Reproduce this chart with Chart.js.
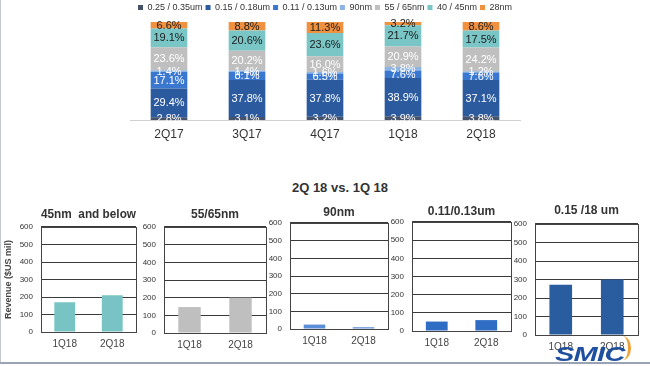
<!DOCTYPE html>
<html>
<head>
<meta charset="utf-8">
<script src="https://cdn.jsdelivr.net/npm/chart.js@4.4.0/dist/chart.umd.min.js"></script>
<style>
  html, body { margin: 0; padding: 0; background: #fff; }
  body { width: 650px; height: 366px; position: relative; overflow: hidden; font-family: "Liberation Sans", Arial, sans-serif; }
  canvas { position: absolute; }
  #frameL { position: absolute; left: 0; top: 0; width: 1px; height: 363px; background: #c4c7cc; }
  #frameB { position: absolute; left: 0; top: 362px; width: 650px; height: 2px; background: #9aa3b3; }
  #heading { position: absolute; left: 240px; top: 180px; width: 200px; text-align: center; font-weight: bold; font-size: 13px; color: #333; }
  #logo { position: absolute; left: 555px; top: 343px; font: italic bold 20px "Liberation Sans", Arial, sans-serif; color: #1f4f9f; transform: scaleX(1.45); transform-origin: left top; letter-spacing: -0.5px; }
  #swirl { position: absolute; left: 614px; top: 336px; width: 14px; height: 24px; border-right: 3px solid #f0a030; border-radius: 50%; }
</style>
</head>
<body>
<div id="frameL"></div>
<canvas id="mix" width="650" height="145" style="left:0;top:0;width:650px;height:145px"></canvas>
<div id="heading">2Q 18 vs. 1Q 18</div>
<canvas id="p0"></canvas>
<canvas id="p1"></canvas>
<canvas id="p2"></canvas>
<canvas id="p3"></canvas>
<canvas id="p4"></canvas>
<div id="swirl"></div>
<div id="logo">SMIC</div>
<div id="frameB"></div>
<script>
// revenue mix by node, % of wafer revenue
const quarters = ['2Q17', '3Q17', '4Q17', '1Q18', '2Q18'];
const nodes = ['0.25 / 0.35um', '0.15 / 0.18um', '0.11 / 0.13um', '90nm', '55 / 65nm', '40 / 45nm', '28nm'];
const share025 = [2.8, 3.1, 3.2, 3.9, 3.8];
const share015 = [29.4, 37.8, 37.8, 38.9, 37.1];
const share011 = [17.1, 8.1, 6.5, 7.6, 7.6];
const share90 = [1.4, 1.4, 1.6, 3.8, 1.2];
const share55 = [23.6, 20.2, 16.0, 20.9, 24.2];
const share40 = [19.1, 20.6, 23.6, 21.7, 17.5];
const share28 = [6.6, 8.8, 11.3, 3.2, 8.6];

// revenue per node, $US mil
const periods = ['1Q18', '2Q18'];
const panelTitles = ['45nm  and below', '55/65nm', '90nm', '0.11/0.13um', '0.15 /18 um'];
const rev45 = [170, 210];
const rev55 = [147, 200];
const rev90 = [25, 10];
const rev011 = [52, 60];
const rev015 = [272, 300];
const revTicks = [0, 100, 200, 300, 400, 500, 600];

const FONT = '"Liberation Sans", Arial, sans-serif';
const mixColors = ['#44536b', '#2c5a9e', '#3a78cf', '#8eb4e3', '#bfbfbf', '#7ac5c5', '#f0913f'];
const mixLabelColors = ['#fff', '#fff', '#fff', '#fff', '#fff', '#1b1b1b', '#1b1b1b'];
const mixSeries = [share025, share015, share011, share90, share55, share40, share28];

const segLabels = {
  id: 'segLabels',
  afterDatasetsDraw(chart) {
    const ctx = chart.ctx;
    ctx.save();
    ctx.font = '11px ' + FONT;
    ctx.textAlign = 'center';
    ctx.textBaseline = 'middle';
    chart.data.datasets.forEach((ds, i) => {
      chart.getDatasetMeta(i).data.forEach((bar, j) => {
        const p = bar.getProps(['x', 'y', 'base'], true);
        ctx.fillStyle = ds.labelColor;
        ctx.fillText(ds.data[j].toFixed(1) + '%', p.x, (p.y + p.base) / 2 + 0.5);
      });
    });
    ctx.restore();
  }
};

new Chart(document.getElementById('mix'), {
  type: 'bar',
  data: {
    labels: quarters,
    datasets: mixSeries.map((d, i) => ({
      label: nodes[i], data: d, backgroundColor: mixColors[i], labelColor: mixLabelColors[i],
      barPercentage: 0.47, categoryPercentage: 1
    }))
  },
  options: {
    responsive: false, animation: false,
    layout: { padding: { left: 130, right: 130, top: 0, bottom: 0 } },
    plugins: {
      legend: {
        display: true, position: 'top',
        labels: { boxWidth: 5, boxHeight: 5, padding: 3, color: '#333', font: { size: 9, family: FONT } }
      },
      tooltip: { enabled: false }
    },
    scales: {
      x: {
        stacked: true,
        grid: { display: false, drawTicks: false },
        border: { display: true, color: '#d0d0d0' },
        ticks: { color: '#333', font: { size: 12, family: FONT }, padding: 7 },
        afterFit(s) { s.height = 25; }
      },
      y: { stacked: true, display: false, min: 0, max: 100 }
    }
  },
  plugins: [segLabels]
});

// small revenue panels
const boxFrame = {
  id: 'boxFrame',
  afterDraw(chart) {
    const a = chart.chartArea, ctx = chart.ctx;
    ctx.save();
    ctx.strokeStyle = '#444';
    ctx.lineWidth = 1;
    ctx.strokeRect(Math.round(a.left) + 0.5, Math.round(a.top) + 0.5, Math.round(a.right - a.left), Math.round(a.bottom - a.top));
    ctx.restore();
  }
};

// plot box (page px) and title centre for each panel
const panelBoxes = [
  { x0: 41, x1: 136, y0: 227, y1: 332, ty: 215 },
  { x0: 164, x1: 266, y0: 227, y1: 333, ty: 215 },
  { x0: 290, x1: 388, y0: 223, y1: 329, ty: 213 },
  { x0: 412, x1: 511, y0: 222, y1: 331, ty: 212 },
  { x0: 535, x1: 638, y0: 224, y1: 335, ty: 211 }
];
const panelValues = [rev45, rev55, rev90, rev011, rev015];
const panelColors = ['#78c4c4', '#bfbfbf', '#5b8ed8', '#2f6cc4', '#2a5ca0'];

panelBoxes.forEach((b, i) => {
  const cv = document.getElementById('p' + i);
  const top = 195, left = b.x0 - 40, w = b.x1 - b.x0 + 46, h = 165;
  cv.width = w; cv.height = h;
  cv.style.left = left + 'px'; cv.style.top = top + 'px';
  cv.style.width = w + 'px'; cv.style.height = h + 'px';
  const titleLH = 14.4;
  const padTop = b.ty - top - titleLH / 2;
  const titleGap = b.y0 - top - padTop - titleLH;
  new Chart(cv, {
    type: 'bar',
    data: {
      labels: periods,
      datasets: [{ data: panelValues[i], backgroundColor: panelColors[i], barPercentage: 0.44, categoryPercentage: 1 }]
    },
    options: {
      responsive: false, animation: false,
      layout: { padding: { left: 0, right: 6, top: padTop, bottom: 0 } },
      plugins: {
        legend: { display: false },
        tooltip: { enabled: false },
        title: {
          display: true, fullSize: false, text: panelTitles[i], color: '#333',
          font: { size: 12, weight: 'bold', family: FONT, lineHeight: 1.2 },
          padding: { top: 0, bottom: titleGap }
        }
      },
      scales: {
        x: {
          grid: { display: false, drawTicks: false },
          border: { display: true, color: '#444' },
          ticks: { color: '#444', font: { size: 10, family: FONT }, padding: 6 },
          afterFit(s) { s.height = 360 - b.y1; }
        },
        y: {
          min: revTicks[0], max: revTicks[revTicks.length - 1],
          afterBuildTicks(s) { s.ticks = revTicks.map(v => ({ value: v })); },
          grid: { color: '#3a3a3a', lineWidth: 1, drawTicks: false },
          border: { display: true, color: '#444' },
          ticks: { color: '#333', font: { size: 8, family: '"Liberation Sans Narrow", ' + FONT }, padding: 8 },
          title: {
            display: i === 0, text: 'Revenue ($US mil)', color: '#444',
            font: { size: 9, weight: 'bold', family: FONT }, padding: { top: 2, bottom: 0 }
          },
          afterFit(s) { s.width = 40; }
        }
      }
    },
    plugins: [boxFrame]
  });
});
</script>
</body>
</html>
